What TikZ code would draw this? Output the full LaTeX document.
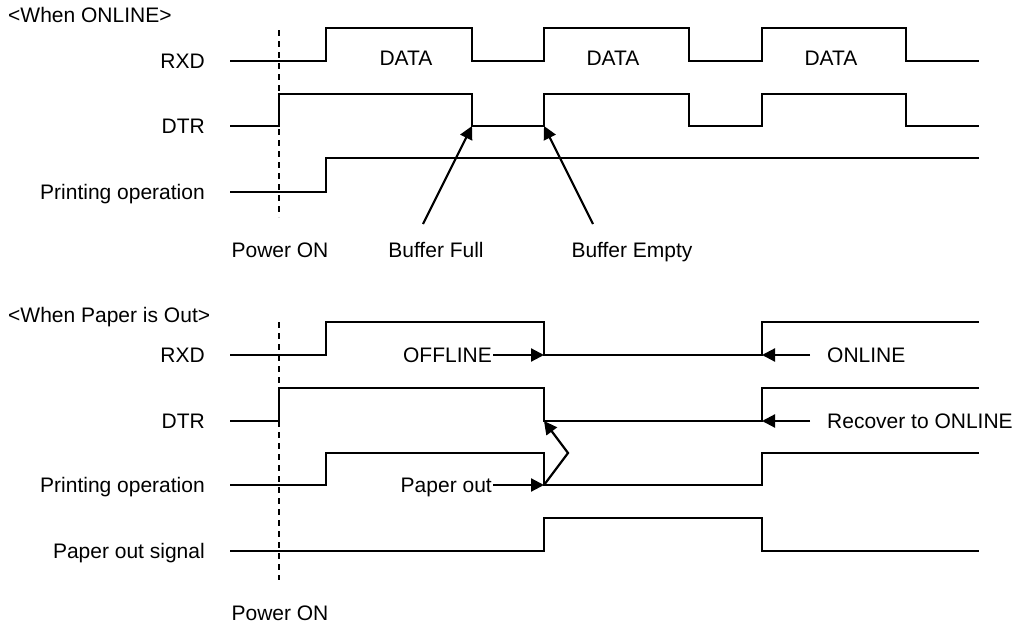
\documentclass[tikz,border=0pt]{standalone}
\usepackage{fontspec}
\setmainfont{Liberation Sans}
\usetikzlibrary{arrows.meta}

\begin{document}
\begin{tikzpicture}[x=1pt,y=-1pt,
    wave/.style={line width=2pt},
    pointer/.style={line width=2.2pt,-{Triangle[length=13pt,width=13pt]}},
    powerline/.style={line width=1.6pt,dash pattern=on 6pt off 5pt},
    lbl/.style={font=\fontsize{21}{24}\selectfont,inner sep=1pt}]
    \useasboundingbox (0,0) rectangle (1015,624);
    % When ONLINE
    \node[lbl,anchor=base west] (titleA) at (7,22) {<When ONLINE>};
    \node[lbl,anchor=base east] (rxdA) at (206,68) {RXD};
    \node[lbl,anchor=base east] (dtrA) at (206,133) {DTR};
    \node[lbl,anchor=base east] (prnA) at (206,199) {Printing operation};
    % Signals
    \draw[wave] (230,61) -| (326,28) -| (472,61) -| (544,28) -| (689,61) -| (762,28) -| (906,61) -- (979,61);
    \draw[wave] (230,126) -| (279,94) -| (472,126) -| (544,94) -| (689,126) -| (762,94) -| (906,126) -- (979,126);
    \draw[wave] (230,192) -| (326,158) -- (979,158);
    \foreach \x/\n in {406/1,613/2,831/3}
        \node[lbl,anchor=base] (data\n) at (\x,65) {DATA};
    % Power on
    \draw[powerline] (279,30) -- (279,217);
    \node[lbl,anchor=base] (powA) at (280,257) {Power ON};
    % Buffer arrows
    \node[lbl,anchor=base] (bfull) at (436,257) {Buffer Full};
    \node[lbl,anchor=base] (bempty) at (632,257) {Buffer Empty};
    \coordinate (fullTail) at (423,224);
    \coordinate (fullTip) at (472,126);
    \coordinate (emptyTail) at (593,224);
    \coordinate (emptyTip) at (544,126);
    \draw[pointer] (fullTail) -- (fullTip);
    \draw[pointer] (emptyTail) -- (emptyTip);

    % When Paper is Out
    \node[lbl,anchor=base west] (titleB) at (7,322) {<When Paper is Out>};
    \node[lbl,anchor=base east] (rxdB) at (206,362) {RXD};
    \node[lbl,anchor=base east] (dtrB) at (206,428) {DTR};
    \node[lbl,anchor=base east] (prnB) at (206,492) {Printing operation};
    \node[lbl,anchor=base east] (posB) at (206,558) {Paper out signal};
    % Signals
    \draw[wave] (230,355) -| (326,322) -| (544,355) -| (762,322) -- (979,322);
    \draw[wave] (230,421) -| (279,388) -| (544,421) -| (762,388) -- (979,388);
    \draw[wave] (230,485) -| (326,453) -| (544,485) -| (762,453) -- (979,453);
    \draw[wave] (230,551) -| (544,518) -| (762,551) -- (979,551);
    % Power on
    \draw[powerline] (279,322) -- (279,580);
    \node[lbl,anchor=base] (powB) at (280,620) {Power ON};
    % Event arrows
    \node[lbl,anchor=base east] (offline) at (493,362) {OFFLINE};
    \node[lbl,anchor=base east] (pout) at (493,492) {Paper out};
    \node[lbl,anchor=base west] (online) at (826,362) {ONLINE};
    \node[lbl,anchor=base west] (recover) at (826,428) {Recover to ONLINE};
    \coordinate (offTip) at (544,355);
    \coordinate (poutTip) at (544,485);
    \coordinate (bend) at (568,453);
    \coordinate (dtrTip) at (544,421);
    \coordinate (onTail) at (810,355);
    \coordinate (onTip) at (762,355);
    \coordinate (recTail) at (810,421);
    \coordinate (recTip) at (762,421);
    \draw[pointer] (offline.east |- offTip) -- (offTip);
    \draw[pointer] (pout.east |- poutTip) -- (poutTip);
    \draw[pointer] (poutTip) -- (bend) -- (dtrTip);
    \draw[pointer] (onTail) -- (onTip);
    \draw[pointer] (recTail) -- (recTip);
\end{tikzpicture}
\end{document}
